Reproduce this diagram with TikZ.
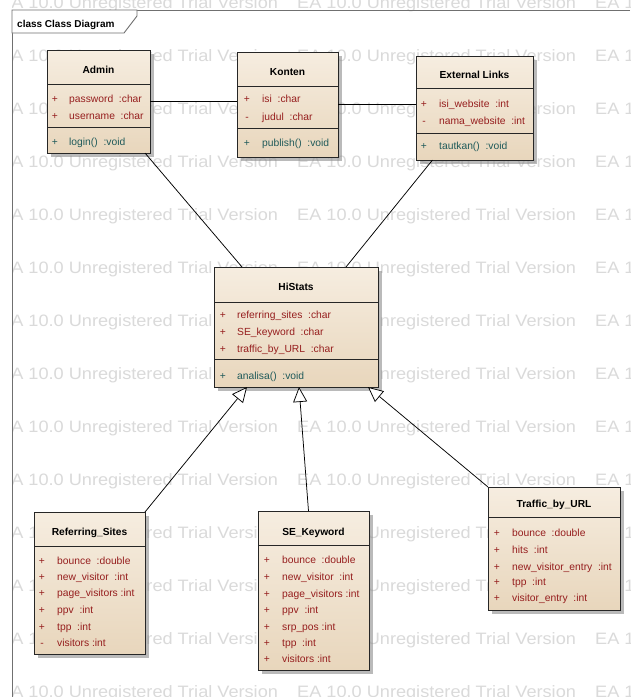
\documentclass[tikz,border=0pt]{standalone}
\usepackage{fontspec}
\setmainfont{Liberation Sans}
\usetikzlibrary{arrows.meta,shadows}
\definecolor{attrred}{HTML}{961E1E}
\definecolor{methteal}{HTML}{1F5A5A}
\definecolor{boxtop}{HTML}{F6EDE0}
\definecolor{boxbot}{HTML}{E8D6BC}
\definecolor{wmgray}{HTML}{DADADA}
\definecolor{framegray}{HTML}{707070}
\tikzset{
  classbox/.style={draw=black!85,line width=0.9pt,top color=boxtop,bottom color=boxbot,
    inner sep=0pt,outer sep=0pt,
    drop shadow={shadow xshift=3.5pt,shadow yshift=-3.5pt,fill=black!45,opacity=0.6}},
  divline/.style={draw=black!85,line width=0.9pt},
  ctitle/.style={font=\bfseries\fontsize{10.2}{12}\selectfont,inner sep=0pt,anchor=base},
  vissign/.style={font=\fontsize{10.3}{12}\selectfont,inner sep=0pt,anchor=base},
  attr/.style={font=\fontsize{10.3}{12}\selectfont,inner sep=0pt,anchor=base west,text=attrred},
  meth/.style={font=\fontsize{10.3}{12}\selectfont,inner sep=0pt,anchor=base west,text=methteal},
  wmark/.style={font=\fontsize{16.5}{18}\selectfont,text=wmgray,inner sep=0pt,anchor=base west},
  assoc/.style={draw=black,line width=0.75pt},
  gen/.style={draw=black,line width=0.75pt,-{Triangle[length=15pt,width=14pt,fill=white]}}
}
\begin{document}
\begin{tikzpicture}[x=1pt,y=-1pt]
 \useasboundingbox[fill=white] (0,0) rectangle (630,697);
 % watermark
 \begin{scope}
  \clip (12,0) rectangle (630,697);
  \foreach \r in {0,...,13}
   \foreach \c/\cx in {0/-1,1/297,2/595}
    \node[wmark] (wm-\r-\c) at (\cx,8+53*\r) {\scalebox{1.1}[1]{EA 10.0 Unregistered Trial Version}};
 \end{scope}
 % frame
 \draw[framegray,line width=0.9pt] (630,10) -- (12,10) -- (12,697);
 \draw[framegray,line width=0.9pt,fill=white] (12,10) -- (137,10) -- (137,16) -- (124,33) -- (12,33) -- cycle;
 \node[font=\bfseries\fontsize{10}{12}\selectfont,inner sep=0pt,anchor=base west] (frame-t) at (17,27) {class Class Diagram};
 % Admin
 \node[classbox,minimum width=103pt,minimum height=103pt] (admin) at (98.5,101.5) {};
 \draw[divline] (47,84) -- (150,84);
 \draw[divline] (47,127) -- (150,127);
 \node[ctitle] (admin-t) at (98.5,73.7) {Admin};
 \foreach \s/\t/\y [count=\i] in {+/password~~:char/98,+/username~~:char/115}{
  \node[vissign,text=attrred] (admin-s\i) at (55,\y+4) {\s};
  \node[attr] (admin-a\i) at (69,\y+4) {\t};
 }
 \node[vissign,text=methteal] (admin-ms) at (55,145) {+};
 \node[meth] (admin-m) at (69,145) {login()~~:void};
 % Konten
 \node[classbox,minimum width=101pt,minimum height=105pt] (konten) at (287.5,104.5) {};
 \draw[divline] (237,86) -- (338,86);
 \draw[divline] (237,128) -- (338,128);
 \node[ctitle] (konten-t) at (287.5,75.7) {Konten};
 \foreach \s/\t/\y [count=\i] in {+/isi~~:char/98,-/judul~~:char/116}{
  \node[vissign,text=attrred] (konten-s\i) at (247,\y+4) {\s};
  \node[attr] (konten-a\i) at (262,\y+4) {\t};
 }
 \node[vissign,text=methteal] (konten-ms) at (247,146) {+};
 \node[meth] (konten-m) at (262,146) {publish()~~:void};
 % External Links
 \node[classbox,minimum width=117pt,minimum height=104pt] (extlinks) at (474.5,108) {};
 \draw[divline] (416,88) -- (533,88);
 \draw[divline] (416,133) -- (533,133);
 \node[ctitle] (extlinks-t) at (474.5,78.7) {External Links};
 \foreach \s/\t/\y [count=\i] in {+/isi\_website~~:int/103,-/nama\_website~~:int/120}{
  \node[vissign,text=attrred] (extlinks-s\i) at (424,\y+4) {\s};
  \node[attr] (extlinks-a\i) at (439,\y+4) {\t};
 }
 \node[vissign,text=methteal] (extlinks-ms) at (424,149) {+};
 \node[meth] (extlinks-m) at (439,149) {tautkan()~~:void};
 % HiStats
 \node[classbox,minimum width=164pt,minimum height=120pt] (histats) at (296,327) {};
 \draw[divline] (214,302) -- (378,302);
 \draw[divline] (214,359) -- (378,359);
 \node[ctitle] (histats-t) at (296,290.7) {HiStats};
 \foreach \s/\t/\y [count=\i] in {+/referring\_sites~~:char/314,+/SE\_keyword~~:char/331,+/traffic\_by\_URL~~:char/348}{
  \node[vissign,text=attrred] (histats-s\i) at (223,\y+4) {\s};
  \node[attr] (histats-a\i) at (237,\y+4) {\t};
 }
 \node[vissign,text=methteal] (histats-ms) at (223,379) {+};
 \node[meth] (histats-m) at (237,379) {analisa()~~:void};
 % Referring_Sites
 \node[classbox,minimum width=111pt,minimum height=142pt] (refsites) at (89.5,583) {};
 \draw[divline] (34,546) -- (145,546);
 \node[ctitle] (refsites-t) at (89.5,535.7) {Referring\_Sites};
 \foreach \s/\t/\y [count=\i] in {+/bounce~~:double/560,+/new\_visitor~~:int/576,+/page\_visitors~:int/592,
   +/ppv~~:int/609,+/tpp~~:int/626,-/visitors~:int/642}{
  \node[vissign,text=attrred] (refsites-s\i) at (42,\y+4) {\s};
  \node[attr] (refsites-a\i) at (57,\y+4) {\t};
 }
 % SE_Keyword
 \node[classbox,minimum width=111pt,minimum height=159pt] (sekeyword) at (313.5,590.5) {};
 \draw[divline] (258,545) -- (369,545);
 \node[ctitle] (sekeyword-t) at (313.5,535.7) {SE\_Keyword};
 \foreach \s/\t/\y [count=\i] in {+/bounce~~:double/559,+/new\_visitor~~:int/576,+/page\_visitors~:int/593,
   +/ppv~~:int/609,+/srp\_pos~:int/626,+/tpp~~:int/642,+/visitors~:int/658}{
  \node[vissign,text=attrred] (sekeyword-s\i) at (267,\y+4) {\s};
  \node[attr] (sekeyword-a\i) at (282,\y+4) {\t};
 }
 % Traffic_by_URL
 \node[classbox,minimum width=132pt,minimum height=123pt] (traffic) at (554,548.5) {};
 \draw[divline] (488,517) -- (620,517);
 \node[ctitle] (traffic-t) at (554,507.7) {Traffic\_by\_URL};
 \foreach \s/\t/\y [count=\i] in {+/bounce~~:double/532,+/hits~~:int/549,+/new\_visitor\_entry~~:int/566,
   +/tpp~~:int/581,+/visitor\_entry~~:int/597}{
  \node[vissign,text=attrred] (traffic-s\i) at (497,\y+4) {\s};
  \node[attr] (traffic-a\i) at (512,\y+4) {\t};
 }
 % associations
 \draw[assoc] (admin.east) -- (admin.east -| konten.west);
 \draw[assoc] (konten.east) -- (konten.east -| extlinks.west);
 \draw[assoc] ([xshift=-5pt]admin.south east) -- ([xshift=-54pt]histats.north);
 \draw[assoc] ([xshift=-42pt]extlinks.south) -- ([xshift=50pt]histats.north);
 % generalizations
 \draw[gen] (refsites.north east) -- ([xshift=-49pt]histats.south);
 \draw[gen] ([xshift=-5pt]sekeyword.north) -- ([xshift=3pt]histats.south);
 \draw[gen] (traffic.north west) -- ([xshift=72pt]histats.south);
\end{tikzpicture}
\end{document}
